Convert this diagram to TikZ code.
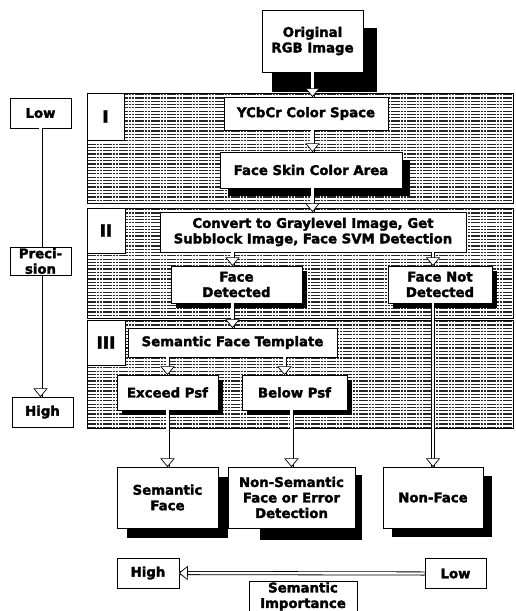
\documentclass[tikz,border=0pt]{standalone}
\usepackage{fontspec}
\setmainfont{DejaVu Sans}[BoldFeatures={FakeBold=2.2}]
\usetikzlibrary{arrows.meta,shadows,decorations.markings}
\begin{document}
\begin{tikzpicture}[x=1pt,y=-1pt,
  box/.style={draw, fill=white, line width=0.8pt, align=center, inner sep=0pt,
    font=\bfseries\fontsize{13.3}{15.5}\selectfont},
  lab/.style={draw, fill=white, line width=0.8pt, inner sep=0pt,
    font=\bfseries\fontsize{17}{18}\selectfont},
  shad/.style={drop shadow={shadow xshift=#1, shadow yshift=-#1, fill=black, opacity=1}},
  hatch/.style={black!85, line width=1.2pt, dash pattern=on 2.5pt off 0.7pt},
  arr/.style={white, line width=2.4pt,
    preaction={draw, black, line width=4pt},
    postaction={decorate, decoration={markings, mark=at position 1 with {
      \draw[black, line width=0.7pt, fill=white, line join=miter]
        (0pt,0pt) -- (-8pt,6.5pt) -- (-8pt,-6.5pt) -- cycle;}}}}
]
\useasboundingbox (0,0) rectangle (515,611);
% shadow of the first box
\fill (272,28) rectangle (377,92);
% panels
\foreach \ya/\yb in {93/203, 208/318, 320/428} {
  \begin{scope}
    \fill[white] (87,\ya) rectangle (513,\yb);
    \clip (87,\ya) rectangle (513,\yb);
    \foreach \k in {0,...,34} {
      \draw[hatch] (87,\ya+1.6+3.3*\k) -- (513,\ya+1.6+3.3*\k);
    }
  \end{scope}
  \draw[line width=0.8pt] (87,\ya) rectangle (513,\yb);
}
\node[lab, minimum width=37pt, minimum height=47pt] (pI) at (105.5,116.5) {I};
\node[lab, minimum width=38pt, minimum height=45pt] (pII) at (106,230.5) {II};
\node[lab, minimum width=38pt, minimum height=45pt] (pIII) at (106,342.5) {III};

% main boxes
\node[box, minimum width=101pt, minimum height=62pt] (orig) at (312.5,41) {Original\\RGB Image};
\node[box, minimum width=164pt, minimum height=33pt] (ycc) at (306,113.5) {YCbCr Color Space};
\node[box, shad=8pt, minimum width=182pt, minimum height=36pt] (fsa) at (311,170) {Face Skin Color Area};
\node[box, minimum width=306pt, minimum height=40pt] (conv) at (313,232) {Convert to Graylevel Image, Get\\Subblock Image, Face SVM Detection};
\node[box, shad=5pt, minimum width=131pt, minimum height=37pt] (fd) at (236.5,284.5) {Face\\Detected};
\node[box, shad=5pt, minimum width=104pt, minimum height=37pt] (fnd) at (440,284.5) {Face Not\\Detected};
\node[box, minimum width=209pt, minimum height=29pt] (sft) at (232.5,342.5) {Semantic Face Template};
\node[box, shad=5pt, minimum width=101pt, minimum height=35pt] (exc) at (167.5,392.5) {Exceed Psf};
\node[box, shad=5pt, minimum width=105pt, minimum height=35pt] (bel) at (294.5,392.5) {Below Psf};

% output boxes
\node[box, shad=10pt, minimum width=101pt, minimum height=61pt] (sf) at (167.5,497.5) {Semantic\\Face};
\fill (260,475) rectangle (362,540);
\node[box, minimum width=127pt, minimum height=61pt] (nsf) at (291.5,497.5) {Non-Semantic\\Face or Error\\Detection};
\node[box, shad=9pt, minimum width=100pt, minimum height=61pt] (nfc) at (433,497.5) {Non-Face};

% bottom scale
\node[box, minimum width=62pt, minimum height=30pt] (hi2) at (148,573) {High};
\node[box, minimum width=61pt, minimum height=30pt] (lo2) at (455.5,573.5) {Low};
\node[box, minimum width=108pt, minimum height=30pt] (si) at (303,596.5) {Semantic\\Importance};

% left scale
\node[box, minimum width=61pt, minimum height=30pt] (lo1) at (40.5,113) {Low};
\node[box, minimum width=61pt, minimum height=30pt] (hi1) at (42.5,412) {High};
\draw[arr] (lo1.south) -- (hi1.north -| lo1.south);
\node[box, minimum width=61pt, minimum height=28pt] (prec) at (40.5,261) {Preci-\\sion};

% connectors
\draw[arr] (orig.south) -- (ycc.north -| orig.south);
\draw[arr] (ycc.south -| orig.south) -- (fsa.north -| orig.south);
\draw[arr] (fsa.south -| orig.south) -- (conv.north -| orig.south);
\draw[arr] ([xshift=-4pt]fd.north |- conv.south) -- ([xshift=-4pt]fd.north);
\draw[arr] (conv.south -| nfc.north) -- (fnd.north -| nfc.north);
\draw[arr] ([xshift=-4pt]fd.south) -- ([xshift=-4pt]fd.south |- sft.north);
\draw[arr] (sft.south -| exc.north) -- (exc.north);
\draw[arr] ([xshift=-10pt]bel.north |- sft.south) -- ([xshift=-10pt]bel.north);
\draw[arr] (exc.south -| sf.north) -- (sf.north);
\draw[arr] (bel.south -| nsf.north) -- (nsf.north);
\draw[arr] (fnd.south -| nfc.north) -- (nfc.north);
\draw[arr] (lo2.west) -- (hi2.east);
\end{tikzpicture}
\end{document}
